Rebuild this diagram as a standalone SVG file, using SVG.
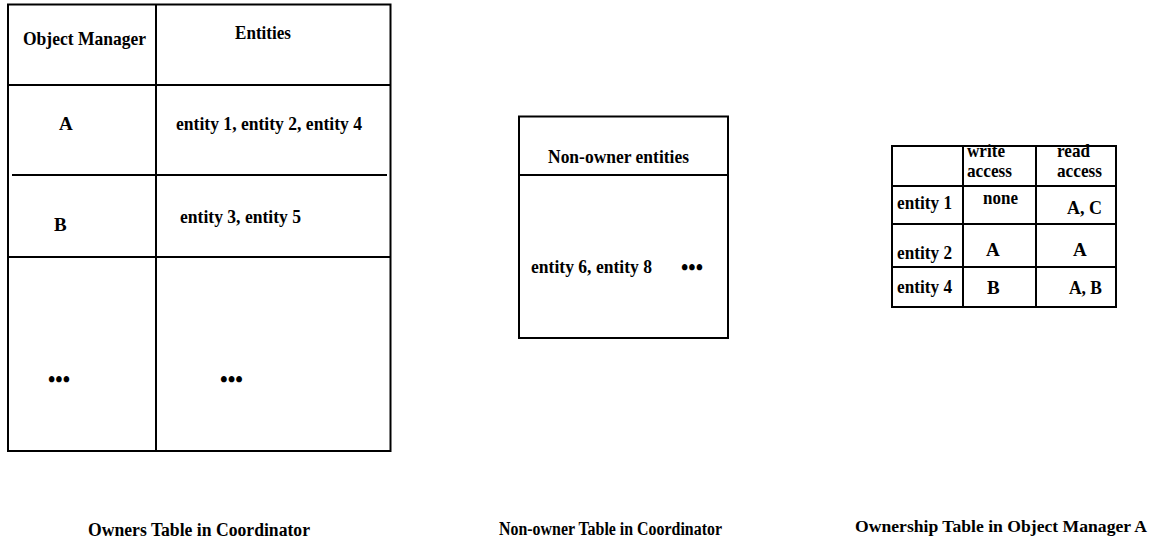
<svg xmlns="http://www.w3.org/2000/svg" width="1156" height="542" viewBox="0 0 1156 542">
  <style>
    .frame { fill: none; stroke: #000; stroke-width: 2; }
    .rule { stroke: #000; stroke-width: 2; }
    text { font-family: "Liberation Serif", "Times New Roman", serif; font-weight: bold; font-size: 19px; fill: #000; }
    .cap { font-size: 18.5px; }
    .cap-wide { font-size: 17.5px; }
    .dots { font-size: 23px; }
  </style>
  <rect width="1156" height="542" fill="#fff"/>

  <!-- Owners table held by the coordinator -->
  <g id="owners-table">
    <rect class="frame" x="8" y="4.5" width="382.5" height="446.5"/>
    <line class="rule" x1="156" y1="4.5" x2="156" y2="451"/>
    <line class="rule" x1="8" y1="85" x2="390.5" y2="85"/>
    <line class="rule" x1="12" y1="175" x2="387" y2="175"/>
    <line class="rule" x1="8" y1="257" x2="390.5" y2="257"/>
    <text x="23" y="45" textLength="123" lengthAdjust="spacingAndGlyphs">Object Manager</text>
    <text x="235" y="39" textLength="56" lengthAdjust="spacingAndGlyphs">Entities</text>
    <text x="59" y="130">A</text>
    <text x="176" y="130" textLength="186" lengthAdjust="spacingAndGlyphs">entity 1, entity 2, entity 4</text>
    <text x="54" y="231">B</text>
    <text x="180" y="223" textLength="121" lengthAdjust="spacingAndGlyphs">entity 3, entity 5</text>
    <text class="dots" x="48" y="387" textLength="22" lengthAdjust="spacingAndGlyphs">•••</text>
    <text class="dots" x="220" y="387" textLength="23" lengthAdjust="spacingAndGlyphs">•••</text>
  </g>

  <!-- Non-owner entities held by the coordinator -->
  <g id="non-owner-table">
    <rect class="frame" x="519" y="116.5" width="209" height="221.5"/>
    <line class="rule" x1="519" y1="175" x2="728" y2="175"/>
    <text x="548" y="163" textLength="141" lengthAdjust="spacingAndGlyphs">Non-owner entities</text>
    <text x="531" y="273" textLength="121" lengthAdjust="spacingAndGlyphs">entity 6, entity 8</text>
    <text class="dots" x="681" y="275" textLength="22" lengthAdjust="spacingAndGlyphs">•••</text>
  </g>

  <!-- Access rights kept by object manager A -->
  <g id="ownership-table">
    <rect class="frame" x="892" y="146" width="224" height="161"/>
    <line class="rule" x1="963" y1="146" x2="963" y2="307"/>
    <line class="rule" x1="1036" y1="146" x2="1036" y2="307"/>
    <line class="rule" x1="892" y1="186" x2="1116" y2="186"/>
    <line class="rule" x1="892" y1="224" x2="1116" y2="224"/>
    <line class="rule" x1="892" y1="267" x2="1116" y2="267"/>
    <text x="967" y="157" textLength="38" lengthAdjust="spacingAndGlyphs">write</text>
    <text x="967" y="177" textLength="45" lengthAdjust="spacingAndGlyphs">access</text>
    <text x="1057" y="157" textLength="33" lengthAdjust="spacingAndGlyphs">read</text>
    <text x="1057" y="177" textLength="45" lengthAdjust="spacingAndGlyphs">access</text>
    <text x="897" y="209" textLength="55" lengthAdjust="spacingAndGlyphs">entity 1</text>
    <text x="983" y="204" textLength="35" lengthAdjust="spacingAndGlyphs">none</text>
    <text x="1067" y="214" textLength="35" lengthAdjust="spacingAndGlyphs">A, C</text>
    <text x="897" y="259" textLength="55" lengthAdjust="spacingAndGlyphs">entity 2</text>
    <text x="986" y="256">A</text>
    <text x="1073" y="256">A</text>
    <text x="897" y="293" textLength="55" lengthAdjust="spacingAndGlyphs">entity 4</text>
    <text x="987" y="294">B</text>
    <text x="1069" y="294" textLength="33" lengthAdjust="spacingAndGlyphs">A, B</text>
  </g>

  <!-- Captions -->
  <g id="captions">
    <text class="cap" x="88" y="536" textLength="222" lengthAdjust="spacingAndGlyphs">Owners Table in Coordinator</text>
    <text class="cap" x="499" y="535" textLength="223" lengthAdjust="spacingAndGlyphs">Non-owner Table in Coordinator</text>
    <text class="cap-wide" x="855" y="532" textLength="292" lengthAdjust="spacingAndGlyphs">Ownership Table in Object Manager A</text>
  </g>
</svg>
